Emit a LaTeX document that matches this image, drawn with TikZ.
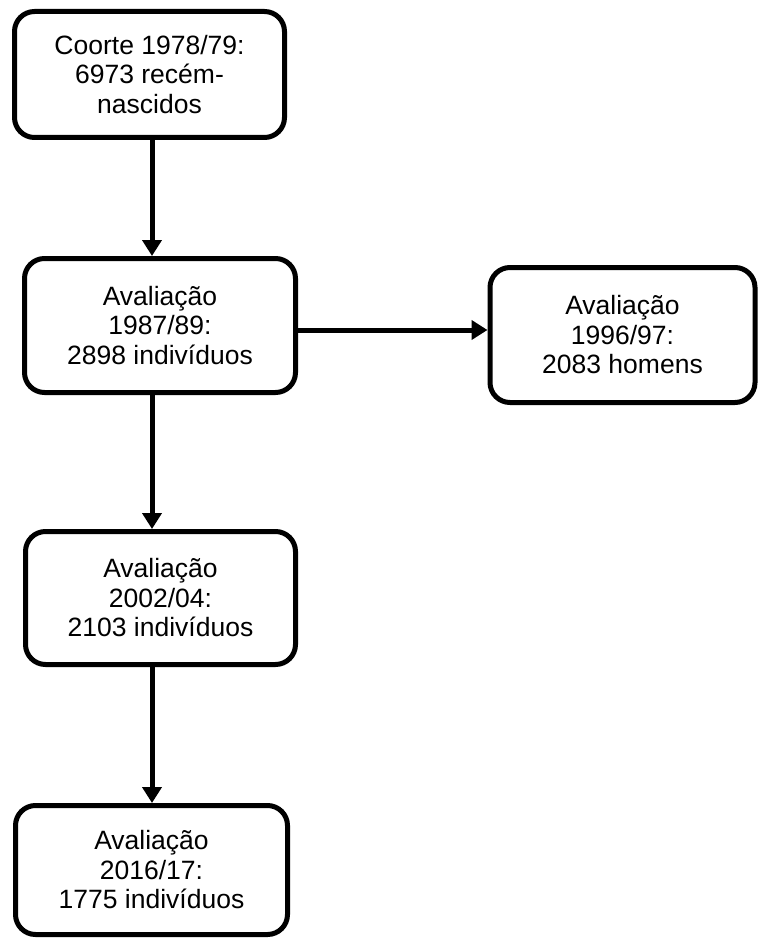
\documentclass[tikz,border=0pt]{standalone}
\usepackage{fontspec}
\setmainfont{Liberation Sans}
\usetikzlibrary{arrows.meta,calc}
\begin{document}
\begin{tikzpicture}[x=1pt,y=-1pt,
  box/.style={draw,line width=5pt,rounded corners=20pt,align=center,inner sep=0pt,
    font=\fontsize{26.5}{29.5}\selectfont},
  arr/.style={line width=5pt,-{Triangle[length=16pt,width=19pt]}}]
\useasboundingbox (0,0) rectangle (758,941);
\node[box,minimum width=270pt,minimum height=126pt] (b1) at (149.5,74.5) {Coorte 1978/79:\\6973 recém-\\nascidos};
\node[box,minimum width=271pt,minimum height=134pt] (b2) at (160,325.5) {Avaliação\\1987/89:\\2898 indivíduos};
\node[box,minimum width=265pt,minimum height=135pt] (b3) at (622.5,335) {Avaliação\\1996/97:\\2083 homens};
\node[box,minimum width=270pt,minimum height=133pt] (b4) at (160.5,598) {Avaliação\\2002/04:\\2103 indivíduos};
\node[box,minimum width=272pt,minimum height=129pt] (b5) at (151.5,870) {Avaliação\\2016/17:\\1775 indivíduos};
\coordinate (ax) at (152,0);
\coordinate (ay) at (0,330);
\draw[arr] (b1.south -| ax) -- (b2.north -| ax);
\draw[arr] (b2.south -| ax) -- (b4.north -| ax);
\draw[arr] (b4.south -| ax) -- (b5.north -| ax);
\draw[arr] (b2.east |- ay) -- (b3.west |- ay);
\end{tikzpicture}
\end{document}
